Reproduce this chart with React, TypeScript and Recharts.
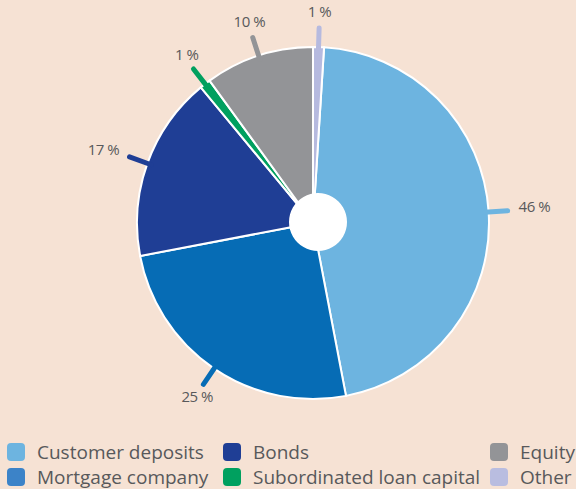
import { PieChart, Pie, Cell } from 'recharts';

const categories = ['Customer deposits', 'Mortgage company', 'Bonds', 'Subordinated loan capital', 'Equity', 'Other'];
const shares = [46, 25, 17, 1, 10, 1];
const sliceColors = ['#6db4e0', '#066cb5', '#1f3e95', '#00a05f', '#939497', '#b6badf'];
const legendColors = ['#6db4e0', '#3c83c8', '#1f3e95', '#00a05f', '#939497', '#b9bde0'];

const BG = '#f6e2d4';
const TEXT = '#58595b';
const RAD = Math.PI / 180;

// Other (1 %) ends right at 12 o'clock, everything else follows clockwise
const START = 90 - (shares[5] / 100) * 360;

const data = categories.map((name, i) => ({ name, value: shares[i] }));

const renderLabel = (props: any) => {
  const { cx, cy, midAngle, outerRadius, value, index } = props;
  const c = Math.cos(-midAngle * RAD);
  const s = Math.sin(-midAngle * RAD);
  const r0 = outerRadius - 4;
  const r1 = outerRadius + 19;
  const rt = outerRadius + 30;
  const anchor = c > 0.7 ? 'start' : c < -0.7 ? 'end' : 'middle';
  const baseline = s < -0.5 ? 'auto' : s > 0.5 ? 'hanging' : 'central';
  const dy = baseline === 'auto' ? 0 : -4;
  return (
    <g key={`lbl-${index}`}>
      <line
        x1={cx + r0 * c}
        y1={cy + r0 * s}
        x2={cx + r1 * c}
        y2={cy + r1 * s}
        stroke={sliceColors[index]}
        strokeWidth={5}
        strokeLinecap="round"
      />
      <text
        x={cx + rt * c}
        y={cy + rt * s + dy}
        textAnchor={anchor}
        dominantBaseline={baseline}
        fill={TEXT}
        fontSize={15}
        letterSpacing={-0.5}
        fontFamily="'Open Sans', sans-serif"
      >
        {`${value} %`}
      </text>
    </g>
  );
};

const legendCols = [
  { x: 7, items: [0, 1] },
  { x: 223, items: [2, 3] },
  { x: 490, items: [4, 5] },
];

export default function App() {
  return (
    <div style={{ position: 'absolute', left: 0, top: 0, width: 576, height: 489, background: BG, overflow: 'hidden' }}>
      <PieChart width={576} height={430} margin={{ top: 0, right: 0, bottom: 0, left: 0 }}>
        <Pie
          data={data}
          dataKey="value"
          nameKey="name"
          cx={313}
          cy={223}
          outerRadius={176}
          startAngle={START}
          endAngle={START - 360}
          stroke="#ffffff"
          strokeWidth={2}
          label={renderLabel}
          labelLine={false}
          isAnimationActive={false}
        >
          {data.map((d, i) => (
            <Cell key={d.name} fill={sliceColors[i]} />
          ))}
        </Pie>
        <Pie
          data={[{ name: 'hole', value: 1 }]}
          dataKey="value"
          cx={318}
          cy={222}
          outerRadius={29}
          fill="#ffffff"
          stroke="none"
          isAnimationActive={false}
        />
      </PieChart>

      {legendCols.map((col) =>
        col.items.map((idx, row) => (
          <div
            key={categories[idx]}
            style={{
              position: 'absolute',
              left: col.x,
              top: 443 + row * 25,
              display: 'flex',
              alignItems: 'center',
              height: 18,
              fontFamily: "'Open Sans', sans-serif",
              fontSize: 19,
              color: TEXT,
              whiteSpace: 'nowrap',
            }}
          >
            <span
              style={{
                display: 'inline-block',
                width: 18,
                height: 18,
                borderRadius: 4,
                background: legendColors[idx],
                marginRight: 12,
              }}
            />
            {categories[idx]}
          </div>
        ))
      )}
    </div>
  );
}
